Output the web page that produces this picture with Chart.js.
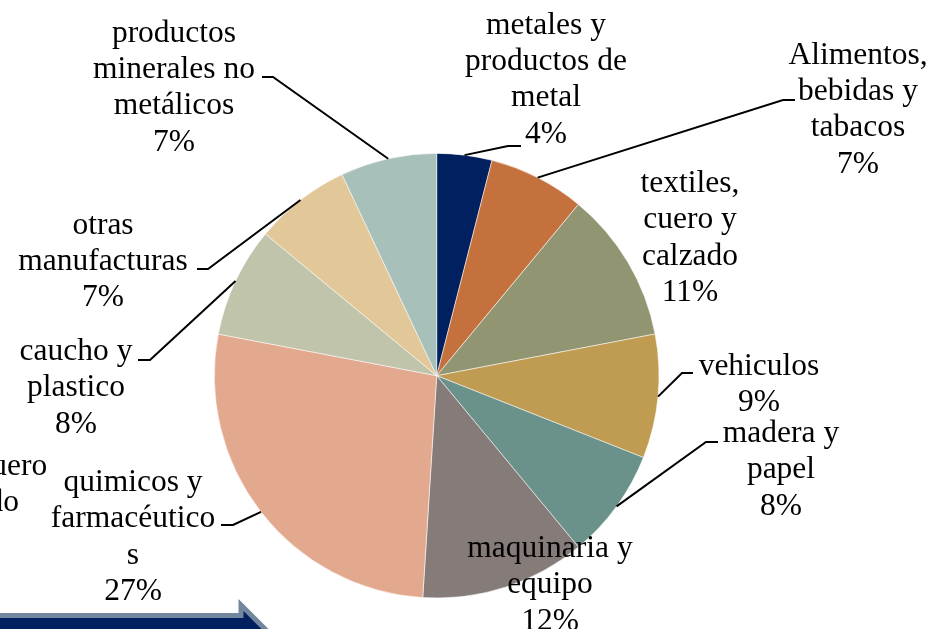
<!DOCTYPE html>
<html>
<head>
<meta charset="utf-8">
<script src="https://cdn.jsdelivr.net/npm/chart.js@4/dist/chart.umd.min.js"></script>
<style>
  html, body { margin: 0; padding: 0; background: #fff; overflow: hidden; }
  canvas { display: block; }
</style>
</head>
<body>
<canvas id="c" width="932" height="629"></canvas>
<script>
// Industry shares (%), clockwise from 12 o'clock
const categories = [
  'metales y productos de metal',
  'Alimentos, bebidas y tabacos',
  'textiles, cuero y calzado',
  'vehiculos',
  'madera y papel',
  'maquinaria y equipo',
  'quimicos y farmacéuticos',
  'caucho y plastico',
  'otras manufacturas',
  'productos minerales no metálicos'
];
const shares = [4, 7, 11, 9, 8, 12, 27, 8, 7, 7];

// how each category name wraps in its label
const labelLines = [
  ['metales y', 'productos de', 'metal'],
  ['Alimentos,', 'bebidas y', 'tabacos'],
  ['textiles,', 'cuero y', 'calzado'],
  ['vehiculos'],
  ['madera y', 'papel'],
  ['maquinaria y', 'equipo'],
  ['quimicos y', 'farmacéutico', 's'],
  ['caucho y', 'plastico'],
  ['otras', 'manufacturas'],
  ['productos', 'minerales no', 'metálicos']
];

const sliceColors = [
  '#00205F', '#C5713E', '#929572', '#C09C52', '#6A918A',
  '#857C7A', '#E3A98F', '#C0C4AB', '#E2C799', '#A7C0BA'
];

// label anchors: centre x, first baseline, leader elbow and leader end
const placement = [
  { x: 546, y: 33.5,  leader: [[508, 146], [521, 146]] },
  { x: 858, y: 63.5,  leader: [[783, 100], [795, 100]] },
  { x: 690, y: 192,   leader: null },
  { x: 759, y: 375,   leader: [[682, 373], [693, 373]] },
  { x: 781, y: 442,   leader: [[706, 442], [718, 442]] },
  { x: 550, y: 557,   leader: null },
  { x: 133, y: 491,   leader: [[233, 525], [221, 525]] },
  { x: 76,  y: 360,   leader: [[150, 360], [138, 360]] },
  { x: 103, y: 233.5, leader: [[208, 269], [197, 269]] },
  { x: 174, y: 41.5,  leader: [[273, 77], [262, 77]] }
];

// neighbouring label that runs off the left edge
const offsideLabel = { lines: ['textiles, cuero', 'y calzado'], x: -41, y: 475 };

const FONT = '31.5px "Liberation Serif", "Times New Roman", serif';
const LINE_H = 36.4;

function drawBlock(ctx, lines, x, y) {
  lines.forEach((t, k) => ctx.fillText(t, x, y + k * LINE_H));
}

const labelPlugin = {
  id: 'pieLabels',
  afterDatasetsDraw(chart) {
    const ctx = chart.ctx;
    const arcs = chart.getDatasetMeta(0).data;
    ctx.save();

    // leader lines from the middle of each slice's rim
    ctx.strokeStyle = '#000';
    ctx.lineWidth = 2;
    ctx.lineJoin = 'miter';
    arcs.forEach((arc, i) => {
      const p = placement[i];
      if (!p.leader) return;
      const { x, y, startAngle, endAngle, outerRadius } =
        arc.getProps(['x', 'y', 'startAngle', 'endAngle', 'outerRadius'], true);
      const mid = (startAngle + endAngle) / 2;
      ctx.beginPath();
      ctx.moveTo(x + Math.cos(mid) * outerRadius, y + Math.sin(mid) * outerRadius);
      ctx.lineTo(p.leader[0][0], p.leader[0][1]);
      ctx.lineTo(p.leader[1][0], p.leader[1][1]);
      ctx.stroke();
    });

    // category + share labels
    ctx.fillStyle = '#000';
    ctx.font = FONT;
    ctx.textAlign = 'center';
    ctx.textBaseline = 'alphabetic';
    arcs.forEach((arc, i) => {
      const p = placement[i];
      drawBlock(ctx, labelLines[i].concat([shares[i] + '%']), p.x, p.y);
    });
    drawBlock(ctx, offsideLabel.lines, offsideLabel.x, offsideLabel.y);
    ctx.restore();
  },
  afterDraw(chart) {
    // block arrow along the bottom edge
    const ctx = chart.ctx;
    ctx.save();
    ctx.beginPath();
    ctx.moveTo(-10, 615.5);
    ctx.lineTo(241, 615.5);
    ctx.lineTo(241, 605);
    ctx.lineTo(276, 640);
    ctx.lineTo(241, 675);
    ctx.lineTo(241, 664.5);
    ctx.lineTo(-10, 664.5);
    ctx.closePath();
    ctx.fillStyle = '#00205F';
    ctx.fill();
    ctx.strokeStyle = '#72879E';
    ctx.lineWidth = 5;
    ctx.lineJoin = 'miter';
    ctx.stroke();
    ctx.restore();
  }
};

new Chart(document.getElementById('c'), {
  type: 'pie',
  data: {
    labels: categories,
    datasets: [{
      data: shares,
      backgroundColor: sliceColors,
      borderColor: 'rgba(255,255,255,0.7)',
      borderWidth: 0.75
    }]
  },
  options: {
    responsive: false,
    animation: false,
    layout: { padding: { left: 214, right: 272.6, top: 153, bottom: 30.6 } },
    plugins: {
      legend: { display: false },
      tooltip: { enabled: false }
    }
  },
  plugins: [labelPlugin]
});
</script>
</body>
</html>
